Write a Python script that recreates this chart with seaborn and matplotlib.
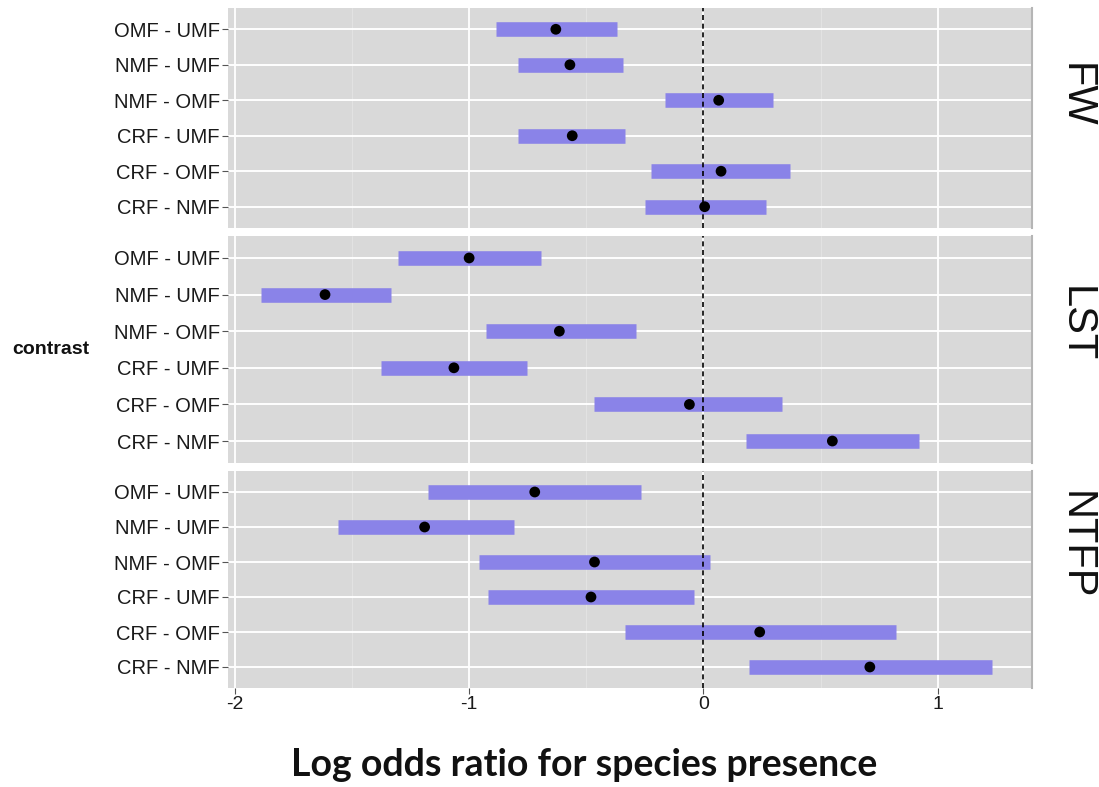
import numpy as np
import pandas as pd
import matplotlib
matplotlib.use("Agg")
import matplotlib.pyplot as plt
import seaborn as sns

contrasts = ["OMF - UMF", "NMF - UMF", "NMF - OMF", "CRF - UMF", "CRF - OMF", "CRF - NMF"]
panels = ["FW", "LST", "NTFP"]

fw_est = [-0.63, -0.57, 0.065, -0.56, 0.075, 0.005]
fw_lo = [-0.885, -0.79, -0.165, -0.79, -0.225, -0.25]
fw_hi = [-0.37, -0.345, 0.295, -0.335, 0.37, 0.265]

lst_est = [-1.0, -1.615, -0.615, -1.065, -0.06, 0.55]
lst_lo = [-1.305, -1.89, -0.93, -1.375, -0.465, 0.18]
lst_hi = [-0.695, -1.335, -0.29, -0.755, 0.335, 0.92]

ntfp_est = [-0.72, -1.19, -0.465, -0.48, 0.24, 0.71]
ntfp_lo = [-1.175, -1.56, -0.96, -0.92, -0.335, 0.195]
ntfp_hi = [-0.265, -0.81, 0.03, -0.04, 0.82, 1.23]

x_ticks = [-2, -1, 0, 1]
x_title = "Log odds ratio for species presence"
y_title = "contrast"

frames = []
for p, est, lo, hi in zip(panels, [fw_est, lst_est, ntfp_est],
                          [fw_lo, lst_lo, ntfp_lo], [fw_hi, lst_hi, ntfp_hi]):
    frames.append(pd.DataFrame({"panel": p, "contrast": contrasts,
                                "est": est, "lo": lo, "hi": hi}))
df = pd.concat(frames, ignore_index=True)
df["pos"] = df["contrast"].map({c: i for i, c in enumerate(contrasts)})

sns.set_theme(style="white")
plt.rcParams["font.family"] = ["Liberation Sans", "DejaVu Sans"]

W, H = 1099, 787
fig = plt.figure(figsize=(W / 100, H / 100), dpi=100)

bg = "#d9d9d9"
bar_col = "#8a83e8"
left_px, right_px = 228, 1032
panel_px = [(8, 228), (236, 463), (471, 688)]
strip_y = [95, 324, 545]

for k, (p, (t, b)) in enumerate(zip(panels, panel_px)):
    ax = fig.add_axes([left_px / W, 1 - b / H, (right_px - left_px) / W, (b - t) / H])
    ax.set_facecolor(bg)
    sub = df[df["panel"] == p]
    ax.set_xlim(-2.029, 1.402)
    ax.set_ylim(5.6, -0.6)
    # grid
    for xm in [-1.5, -0.5, 0.5]:
        ax.axvline(xm, color="#e4e4e4", lw=0.6, zorder=0)
    for xv in x_ticks:
        ax.axvline(xv, color="white", lw=1.3, zorder=0)
    for yv in range(len(contrasts)):
        ax.axhline(yv, color="white", lw=1.4, zorder=0)
    ax.hlines(sub["pos"], sub["lo"], sub["hi"], color=bar_col, lw=10.5, zorder=2)
    ax.axvline(0, color="black", lw=1.2, ls=(0, (3, 2.2)), zorder=3)
    sns.scatterplot(data=sub, x="est", y="pos", ax=ax, color="black", s=60,
                    edgecolor="none", zorder=4, legend=False)
    ax.set_yticks(range(len(contrasts)))
    ax.set_yticklabels(contrasts, fontsize=14.5, color="#1a1a1a")
    ax.set_xticks(x_ticks)
    if k == 2:
        ax.set_xticklabels([str(v) for v in x_ticks], fontsize=14, color="#1a1a1a")
    else:
        ax.set_xticklabels([])
        ax.tick_params(axis="x", length=0)
    ax.tick_params(axis="both", which="major", length=4, width=0.8, color="#555555",
                   direction="out", left=True, bottom=(k == 2), pad=2)
    ax.set_xlabel("")
    ax.set_ylabel("")
    for s in ax.spines.values():
        s.set_visible(False)
    ax.spines["right"].set_visible(True)
    ax.spines["right"].set_color("#b5b5b5")
    ax.spines["right"].set_linewidth(1.5)
    fig.text(1065 / W, 1 - strip_y[k] / H, p, rotation=-90, rotation_mode="anchor",
             ha="center", va="baseline", fontsize=30, color="#111111")

fig.text(51 / W, 1 - 350 / H, y_title, ha="center", va="center", fontsize=14,
         fontweight="bold", color="#111111")
fig.text(584 / W, 1 - 765 / H, x_title, ha="center", va="center", fontsize=27,
         fontweight="bold", family=["Lato", "DejaVu Sans"], color="#111111")

fig.savefig("out.png", dpi=100, facecolor="white")
